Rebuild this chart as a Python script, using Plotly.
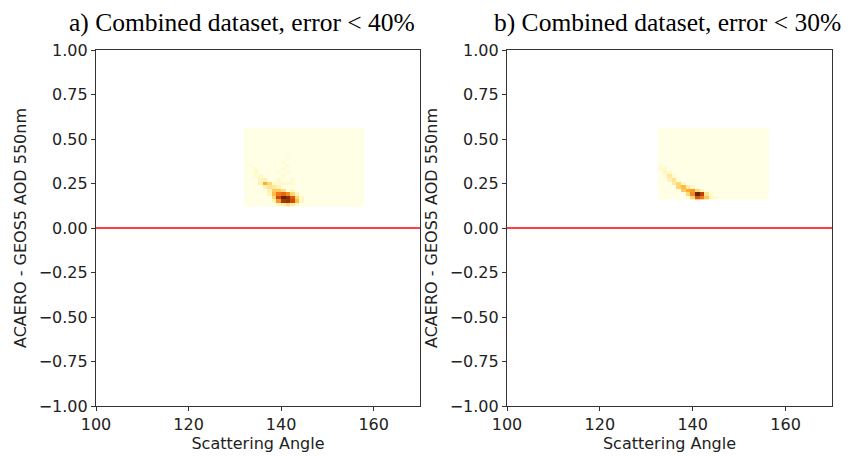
import numpy as np
import plotly.graph_objects as go

# ---------------- data ----------------
panel_titles = ["a) Combined dataset, error < 40%", "b) Combined dataset, error < 30%"]
x_label = "Scattering Angle"
y_label = "ACAERO - GEOS5 AOD 550nm"
x_ticks = [100, 120, 140, 160]
y_ticks = [1.00, 0.75, 0.50, 0.25, 0.00, -0.25, -0.50, -0.75, -1.00]

# panel a: bin edges and non-empty bins (normalised density)
a_x_edges = [132 + i for i in range(27)]          # 132 .. 158
a_y_edges = [round(0.12 + 0.02 * i, 2) for i in range(23)]  # 0.12 .. 0.56
a_cell_x = [140.5, 141.5, 140.5, 141.5, 142.5, 142.5, 139.5, 139.5, 140.5, 141.5,
            138.5, 138.5, 139.5, 140.5, 143.5, 143.5, 139.5, 138.5, 142.5, 137.5,
            138.5, 136.5, 137.5, 135.5, 135.5, 135.5, 134.5, 134.5, 136.5, 138.5,
            139.5, 140.5, 141.5, 142.5, 140.5, 141.5, 140.5, 141.5, 140.5, 141.5,
            141.5, 137.5, 144.5, 142.5, 141.5, 140.5, 133.5, 134.5, 139.5, 142.5,
            143.5, 144.5, 139.5, 138.5, 137.5, 136.5, 139.5, 142.5, 143.5, 139.5]
a_cell_y = [0.17, 0.17, 0.15, 0.15, 0.15, 0.17, 0.17, 0.19, 0.19, 0.19,
            0.19, 0.21, 0.21, 0.21, 0.15, 0.17, 0.15, 0.17, 0.19, 0.23,
            0.23, 0.25, 0.25, 0.25, 0.27, 0.29, 0.31, 0.33, 0.27, 0.25,
            0.25, 0.25, 0.25, 0.25, 0.29, 0.31, 0.33, 0.35, 0.37, 0.39,
            0.41, 0.21, 0.15, 0.13, 0.13, 0.13, 0.35, 0.29, 0.13, 0.21,
            0.19, 0.17, 0.23, 0.15, 0.19, 0.23, 0.27, 0.27, 0.13, 0.31]
a_cell_v = [1.00, 0.92, 0.85, 0.88, 0.75, 0.70, 0.75, 0.60, 0.65, 0.55,
            0.40, 0.35, 0.35, 0.28, 0.40, 0.30, 0.50, 0.30, 0.30, 0.25,
            0.22, 0.45, 0.30, 0.15, 0.12, 0.10, 0.08, 0.06, 0.15, 0.10,
            0.08, 0.08, 0.08, 0.06, 0.05, 0.05, 0.05, 0.05, 0.04, 0.04,
            0.04, 0.15, 0.12, 0.18, 0.28, 0.18, 0.04, 0.05, 0.10, 0.12,
            0.14, 0.08, 0.14, 0.14, 0.14, 0.15, 0.06, 0.05, 0.08, 0.05]

# panel b
b_x_edges = [132.5 + i for i in range(25)]        # 132.5 .. 156.5
b_y_edges = [round(0.16 + 0.02 * i, 2) for i in range(21)]  # 0.16 .. 0.56
b_cell_x = [141, 142, 141, 142, 140, 140, 139, 143, 143, 141,
            138, 138, 137, 137, 136, 136, 135, 135, 134, 135,
            134, 139, 140, 144, 142, 139, 133, 136, 140, 138,
            144, 137, 133, 134, 145]
b_cell_y = [0.19, 0.19, 0.17, 0.17, 0.19, 0.21, 0.21, 0.17, 0.19, 0.21,
            0.21, 0.23, 0.23, 0.25, 0.25, 0.27, 0.27, 0.29, 0.31, 0.31,
            0.33, 0.23, 0.17, 0.17, 0.21, 0.19, 0.35, 0.29, 0.23, 0.25,
            0.19, 0.27, 0.33, 0.29, 0.17]
b_cell_v = [1.00, 0.80, 0.70, 0.60, 0.55, 0.50, 0.45, 0.35, 0.25, 0.30,
            0.35, 0.40, 0.30, 0.30, 0.20, 0.25, 0.15, 0.20, 0.12, 0.10,
            0.08, 0.20, 0.30, 0.12, 0.12, 0.30, 0.04, 0.08, 0.08, 0.10,
            0.06, 0.06, 0.05, 0.05, 0.05]

zero_line_y = 0.0


# ---------------- build ----------------
def grid(xe, ye, cx, cy, cv):
    xe = np.array(xe, float)
    ye = np.array(ye, float)
    xc = (xe[:-1] + xe[1:]) / 2
    yc = (ye[:-1] + ye[1:]) / 2
    z = np.zeros((len(yc), len(xc)))
    for x, y, v in zip(cx, cy, cv):
        i = int(np.argmin(np.abs(yc - y)))
        j = int(np.argmin(np.abs(xc - x)))
        z[i, j] = v
    return xc, yc, z


fig = go.Figure()
W, H = 856, 456
domains_x = [[96 / W, 420 / W], [507 / W, 832 / W]]
dom_y = [1 - 406 / H, 1 - 50 / H]

panels = [(a_x_edges, a_y_edges, a_cell_x, a_cell_y, a_cell_v),
          (b_x_edges, b_y_edges, b_cell_x, b_cell_y, b_cell_v)]

for k, (xe, ye, cx, cy, cv) in enumerate(panels):
    xc, yc, z = grid(xe, ye, cx, cy, cv)
    xa = "x" if k == 0 else "x2"
    ya = "y" if k == 0 else "y2"
    fig.add_trace(go.Heatmap(x=xc, y=yc, z=z, colorscale="YlOrBr", zmin=0, zmax=1,
                             showscale=False, zsmooth=False, xaxis=xa, yaxis=ya,
                             hoverinfo="skip"))
    fig.add_trace(go.Scatter(x=[100, 170], y=[zero_line_y, zero_line_y], mode="lines",
                             line=dict(color="#ff0000", width=1.5), xaxis=xa, yaxis=ya,
                             showlegend=False, hoverinfo="skip"))

axis_common = dict(showline=True, linecolor="#333333", linewidth=1.2, mirror=True,
                   ticks="outside", ticklen=4, tickwidth=1, tickcolor="#333333",
                   showgrid=False, zeroline=False, automargin=False,
                   tickfont=dict(family="DejaVu Sans", size=16, color="#222222"),
                   title_font=dict(family="DejaVu Sans", size=16, color="#222222"))

layout = dict(width=W, height=H, margin=dict(l=0, r=0, t=0, b=0, autoexpand=False),
              paper_bgcolor="white", plot_bgcolor="white", showlegend=False)
for k in range(2):
    sx = "" if k == 0 else "2"
    layout["xaxis" + sx] = dict(axis_common, domain=domains_x[k], range=[100, 170],
                                tickvals=x_ticks, ticktext=[str(t) for t in x_ticks],
                                anchor="y" + sx, title=dict(text=x_label, standoff=2))
    layout["yaxis" + sx] = dict(axis_common, domain=dom_y, range=[-1, 1],
                                tickvals=y_ticks,
                                ticktext=[("\u2212%.2f" % abs(t)) if t < 0 else "%.2f" % t for t in y_ticks],
                                anchor="x" + sx, title=dict(text=y_label, standoff=8))
fig.update_layout(**layout)

title_centers = [242, 667]
for k in range(2):
    fig.add_annotation(text=panel_titles[k], x=title_centers[k] / W, y=1 - 22 / H,
                       xref="paper", yref="paper", showarrow=False,
                       xanchor="center", yanchor="middle",
                       font=dict(family="Liberation Serif", size=25.5, color="black"))

fig.write_html("out.html")
